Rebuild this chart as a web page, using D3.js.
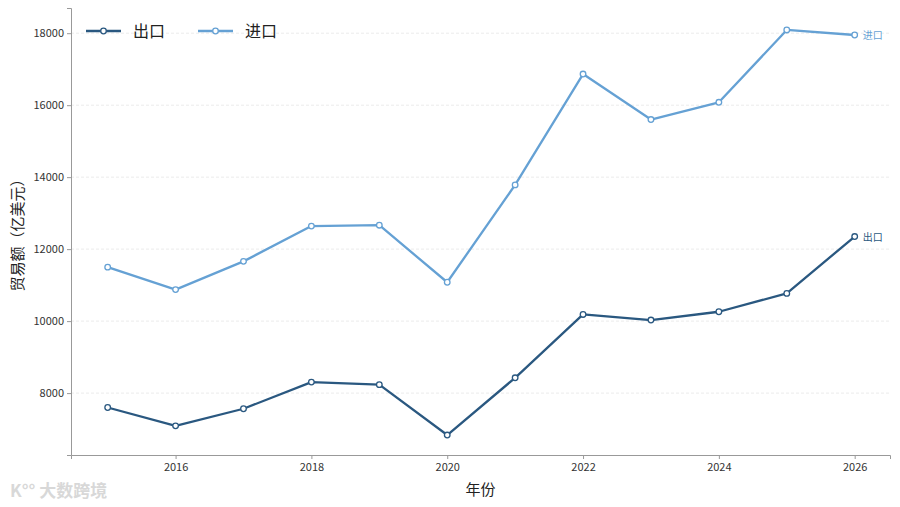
<!DOCTYPE html>
<html><head><meta charset="utf-8">
<script src="https://cdn.jsdelivr.net/npm/d3@7"></script>
<style>body{margin:0;background:#fff;}text{font-family:"Noto Sans CJK SC","Noto Sans",sans-serif;}</style>
</head><body>
<svg id="c" width="900" height="507"></svg>
<script>
const years = [2015,2016,2017,2018,2019,2020,2021,2022,2023,2024,2025,2026];
const exportVals = [7600,7090,7565,8305,8235,6835,8425,10185,10030,10260,10770,12350];
const importVals = [11500,10875,11660,12640,12665,11080,13785,16865,15600,16080,18090,17950];
const seriesNames = ["出口","进口"];
const seriesColors = ["#2a5880","#65a1d4"];
const yTicks = [8000,10000,12000,14000,16000,18000];
const xTicks = [2016,2018,2020,2022,2024,2026];

const svg = d3.select("#c");
const m = {l:71, r:890, t:8, b:455};
const x = d3.scaleLinear().domain([2014.46,2026.52]).range([m.l, m.r]);
const y = d3.scaleLinear().domain([6280,18700]).range([m.b, m.t]);

// grid
svg.append("g").selectAll("line").data(yTicks).join("line")
  .attr("x1", m.l).attr("x2", m.r).attr("y1", d=>y(d)).attr("y2", d=>y(d))
  .attr("stroke", "#e6e6e6").attr("stroke-width", 0.8).attr("stroke-dasharray", "3,2");

// axes
const ya = svg.append("g").attr("transform", `translate(${m.l},0)`)
  .call(d3.axisLeft(y).tickValues(yTicks).tickSize(4).tickPadding(3).tickFormat(d3.format("d")));
const xa = svg.append("g").attr("transform", `translate(0,${m.b})`)
  .call(d3.axisBottom(x).tickValues(xTicks).tickSize(4).tickPadding(4).tickFormat(d3.format("d")));
[ya, xa].forEach(a => {
  a.select(".domain").attr("stroke", "#999");
  a.selectAll(".tick line").attr("stroke", "#999");
  a.selectAll(".tick text").attr("fill", "#333").attr("font-size", 11);
});

// lines
const data = [exportVals, importVals];
const line = d3.line().x((d,i)=>x(years[i])).y(d=>y(d));
data.forEach((vals, k) => {
  svg.append("path").datum(vals).attr("d", line).attr("fill", "none")
    .attr("stroke", seriesColors[k]).attr("stroke-width", 2.3).attr("stroke-linejoin", "round");
  svg.append("g").selectAll("circle").data(vals).join("circle")
    .attr("cx", (d,i)=>x(years[i])).attr("cy", d=>y(d)).attr("r", 2.8)
    .attr("fill", "#fff").attr("stroke", seriesColors[k]).attr("stroke-width", 1.3);
  const last = vals.length - 1;
  svg.append("text").attr("x", x(years[last]) + 8).attr("y", y(vals[last]) + 4)
    .attr("font-size", 10).attr("fill", seriesColors[k]).text(seriesNames[k]);
});

// legend
seriesNames.forEach((n, k) => {
  const lx = 86 + k * 112, ly = 31;
  svg.append("line").attr("x1", lx).attr("x2", lx + 35).attr("y1", ly).attr("y2", ly)
    .attr("stroke", seriesColors[k]).attr("stroke-width", 2.3);
  svg.append("circle").attr("cx", lx + 17.5).attr("cy", ly).attr("r", 2.8)
    .attr("fill", "#fff").attr("stroke", seriesColors[k]).attr("stroke-width", 1.3);
  svg.append("text").attr("x", lx + 47).attr("y", ly + 6).attr("font-size", 16)
    .attr("fill", "#222").text(n);
});

// axis titles
svg.append("text").attr("x", (m.l + m.r) / 2).attr("y", 495).attr("text-anchor", "middle")
  .attr("font-size", 15).attr("fill", "#222").text("年份");
svg.append("text").attr("transform", `translate(23,${(m.t + m.b) / 2}) rotate(-90)`)
  .attr("text-anchor", "middle").attr("font-size", 15).attr("fill", "#222").text("贸易额（亿美元）");

// watermark
svg.append("text").attr("x", 10).attr("y", 497).attr("font-size", 17)
  .attr("fill", "#d8d8d8").attr("font-weight", "bold").text("K°° 大数跨境");
</script>
</body></html>
